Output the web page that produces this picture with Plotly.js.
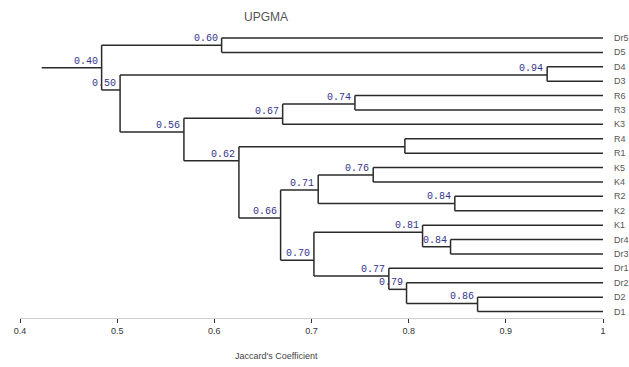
<!DOCTYPE html>
<html>
<head>
<meta charset="utf-8">
<script src="https://cdn.plot.ly/plotly-3.0.1.min.js"></script>
<style>html,body{margin:0;padding:0;background:#fff;}#chart{width:629px;height:367px;}</style>
</head>
<body>
<div id="chart"></div>
<script>
// Leaves, top to bottom
const leafLabels = ['Dr5','D5','D4','D3','R6','R3','K3','R4','R1','K5','K4','R2','K2','K1','Dr4','Dr3','Dr1','Dr2','D2','D1'];
// Internal nodes (position on the Jaccard axis as drawn, row position, printed label)
const nodeIds    = ['n40','n60','n50','n94','n56','n67','n74','n62','n80','n66','n71','n76','n84a','n70','n81','n84b','n77','n79','n86'];
const nodeLabels = ['0.40','0.60','0.50','0.94','0.56','0.67','0.74','0.62','','0.66','0.71','0.76','0.84','0.70','0.81','0.84','0.77','0.79','0.86'];
const nodeX      = [0.484,0.6075,0.503,0.9425,0.5687,0.6703,0.7447,0.6253,0.7961,0.6682,0.7069,0.7635,0.8475,0.7025,0.8143,0.8431,0.7796,0.7978,0.8709];
const nodeY      = [2.06,0.5,3.61,2.57,6.53,5.58,4.59,8.53,7.55,12.51,10.56,9.52,11.49,15.43,13.5,14.5,16.54,17.46,18.44];
const childA     = ['n60','Dr5','n94','D4','n67','n74','R6','n80','R4','n71','n76','K5','R2','n81','K1','Dr4','Dr1','Dr2','D2'];
const childB     = ['n50','D5','n56','D3','n62','K3','R3','n66','R1','n70','n84a','K4','K2','n77','n84b','Dr3','n79','n86','D1'];
const rootStart  = 0.4223;
const tickVals   = [0.4,0.5,0.6,0.7,0.8,0.9,1.0];
const tickText   = ['0.4','0.5','0.6','0.7','0.8','0.9','1'];

function pos(name){
  const li = leafLabels.indexOf(name);
  if (li >= 0) return {x: 1.0, y: li};
  const ni = nodeIds.indexOf(name);
  return {x: nodeX[ni], y: nodeY[ni]};
}

const xs = [], ys = [];
function seg(x0,y0,x1,y1){ xs.push(x0,x1,null); ys.push(y0,y1,null); }
for (let i=0;i<nodeIds.length;i++){
  const a = pos(childA[i]), b = pos(childB[i]);
  seg(nodeX[i], a.y, nodeX[i], b.y);
  seg(nodeX[i], a.y, a.x, a.y);
  seg(nodeX[i], b.y, b.x, b.y);
}
seg(rootStart, nodeY[0], nodeX[0], nodeY[0]);

const trace = {
  x: xs, y: ys, type: 'scatter', mode: 'lines',
  line: {color: '#2a2a2a', width: 1.5}, hoverinfo: 'skip', showlegend: false
};

const annotations = [];
for (let i=0;i<nodeIds.length;i++){
  if (!nodeLabels[i]) continue;
  annotations.push({
    x: nodeX[i], y: nodeY[i], xref: 'x', yref: 'y', text: nodeLabels[i],
    showarrow: false, xanchor: 'right', yanchor: 'bottom', xshift: -2, yshift: -1,
    font: {family: 'Liberation Mono, DejaVu Sans Mono, monospace', size: 10, color: '#34348c'}
  });
}
leafLabels.forEach((lab, i) => {
  annotations.push({
    x: 1.0, y: i, xref: 'x', yref: 'y', text: lab, showarrow: false,
    xanchor: 'left', yanchor: 'middle', xshift: 9,
    font: {family: 'Liberation Sans, Arial, sans-serif', size: 9, color: '#555'}
  });
});
annotations.push({
  x: 277/629, y: (367 - 49 - 356) / (367 - 20 - 49), xref: 'paper', yref: 'paper',
  text: "Jaccard's Coefficient", showarrow: false, xanchor: 'center', yanchor: 'middle',
  font: {family: 'Liberation Sans, Arial, sans-serif', size: 9, color: '#444'}
});

const layout = {
  width: 629, height: 367,
  margin: {l: 20, r: 26, t: 20, b: 49, pad: 0},
  paper_bgcolor: '#fff', plot_bgcolor: '#fff',
  title: {text: 'UPGMA', x: 266/629, xref: 'container', xanchor: 'center',
          y: 1 - 17/367, yref: 'container', yanchor: 'middle',
          font: {family: 'Liberation Sans, Arial, sans-serif', size: 12, color: '#555'}},
  xaxis: {range: [0.4, 1.0], tickvals: tickVals, ticktext: tickText,
          showgrid: false, zeroline: false, showline: true, linecolor: '#cfcfcf', linewidth: 1,
          ticks: 'outside', ticklen: 4, tickcolor: '#333', tickwidth: 1,
          tickfont: {family: 'Liberation Sans, Arial, sans-serif', size: 9, color: '#333'}},
  yaxis: {range: [19.45, -1.25], visible: false, showgrid: false, zeroline: false},
  annotations: annotations,
  showlegend: false
};

Plotly.newPlot('chart', [trace], layout, {staticPlot: true, displayModeBar: false});
</script>
</body>
</html>
